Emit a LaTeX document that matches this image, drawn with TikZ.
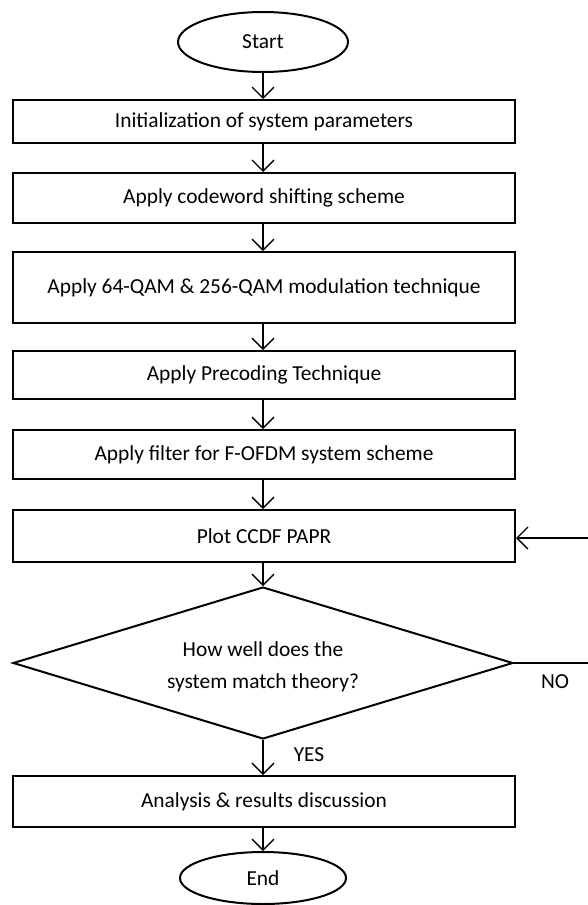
\documentclass[tikz,border=0pt]{standalone}
\usepackage{fontspec}
\setmainfont{Carlito}
\usetikzlibrary{shapes.geometric,arrows.meta}
\begin{document}
\begin{tikzpicture}[x=1pt,y=-1pt,
  font=\fontsize{21.4}{32}\selectfont,
  procbox/.style={draw, line width=2pt, minimum width=502pt, inner sep=0pt, align=center},
  term/.style={draw, ellipse, line width=2pt, minimum width=170pt, minimum height=60pt, inner sep=0pt},
  decis/.style={draw, diamond, shape aspect=3.3, line width=2pt, minimum width=500pt, minimum height=152pt, inner sep=0pt},
  flow/.style={line width=1.3pt, -{Straight Barb[length=11pt,width=22pt,line width=1.3pt]}},
  plain/.style={line width=1.3pt}
]
\useasboundingbox (0,0) rectangle (588,905);
\node[term] (start) at (263,42) {Start};
\node[procbox, minimum height=43pt] (b1) at (264,121.5) {Initialization of system parameters};
\node[procbox, minimum height=50pt] (b2) at (264,198) {Apply codeword shifting scheme};
\node[procbox, minimum height=71pt] (b3) at (264,287.5) {Apply 64-QAM \& 256-QAM modulation technique};
\node[procbox, minimum height=48pt] (b4) at (264,375) {Apply Precoding Technique};
\node[procbox, minimum height=49pt] (b5) at (264,454.5) {Apply filter for F-OFDM system scheme};
\node[procbox, minimum height=52pt] (b6) at (264,536) {Plot CCDF PAPR};
\node[decis] (d) at (263,663) {};
\node[align=center] (dtext) at (263,667) {How well does the\\system match theory?};
\node[procbox, minimum height=51pt] (b7) at (264,801.5) {Analysis \& results discussion};
\node[term, minimum width=166pt, minimum height=52pt] (end) at (263,878) {End};
\node (yes) at (309,755) {YES};
\node (no) at (555,682) {NO};
\coordinate (r1) at (588,663);
\coordinate (r2) at (588,538);
\draw[flow] (start.south) -- (start.south |- b1.north);
\draw[flow] (b1.south -| start.south) -- (start.south |- b2.north);
\draw[flow] (b2.south -| start.south) -- (start.south |- b3.north);
\draw[flow] (b3.south -| start.south) -- (start.south |- b4.north);
\draw[flow] (b4.south -| start.south) -- (start.south |- b5.north);
\draw[flow] (b5.south -| start.south) -- (start.south |- b6.north);
\draw[flow] (b6.south -| start.south) -- (d.north);
\draw[flow] (d.south) -- (d.south |- b7.north);
\draw[flow] (b7.south -| d.south) -- (end.north);
\draw[plain] (d.east) -- (r1);
\draw[flow] (r2) -- (r2 -| b6.east);
\end{tikzpicture}
\end{document}
